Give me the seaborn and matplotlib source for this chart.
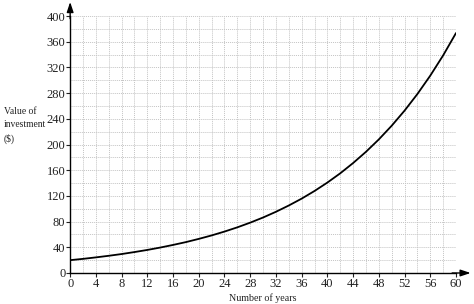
import numpy as np
import pandas as pd
import matplotlib
matplotlib.use("Agg")
import matplotlib.pyplot as plt
import seaborn as sns
from matplotlib.ticker import MultipleLocator

# values
years = [0, 2, 4, 6, 8, 10, 12, 14, 16, 18, 20, 22, 24, 26, 28, 30,
         32, 34, 36, 38, 40, 42, 44, 46, 48, 50, 52, 54, 56, 58, 60]
value = [20, 22, 24.3, 26.8, 29.5, 32.6, 35.9, 39.6, 43.7, 48.1, 53.1, 58.5,
         64.5, 71.1, 78.4, 86.4, 95.3, 105.1, 115.8, 127.7, 140.8, 155.2,
         171.2, 188.7, 208.0, 229.3, 252.8, 278.7, 307.3, 338.8, 373.6]
x_ticks = list(range(0, 61, 4))
y_ticks = list(range(0, 401, 40))

sns.set_style("white")
plt.rcParams['font.family'] = ['Liberation Serif', 'DejaVu Serif']

fig = plt.figure(figsize=(4.74, 3.04), dpi=100)
ax = fig.add_axes([0.148, 0.102, 0.814, 0.845])

df = pd.DataFrame({"years": years, "value": value})
sns.lineplot(data=df, x="years", y="value", ax=ax, color="black", lw=1.3, zorder=3)

ax.set_xlim(0, 60)
ax.set_ylim(0, 400)
ax.set_xticks(x_ticks)
ax.set_yticks(y_ticks)
ax.xaxis.set_minor_locator(MultipleLocator(2))
ax.yaxis.set_minor_locator(MultipleLocator(20))
ax.grid(which="both", color="#c4c4c4", linestyle=(0, (1, 1)), linewidth=0.7)
ax.set_axisbelow(True)

for s in ["top", "right"]:
    ax.spines[s].set_visible(False)
for s in ["left", "bottom"]:
    ax.spines[s].set_color("black")
    ax.spines[s].set_linewidth(1.0)

ax.tick_params(which="major", direction="out", length=3, width=0.8, colors="#222222",
               labelsize=9, pad=0.5, left=True, bottom=True)
ax.tick_params(which="minor", length=0)

ax.set_xlabel("Number of years", fontsize=7.2, labelpad=2.5, color="#222222")
ax.set_ylabel("")
fig.text(0.008, 0.648, "Value of\ninvestment\n($)", fontsize=6.9, ha="left", va="top",
         linespacing=1.6, color="#222222")

# axis arrows
ax.annotate("", xy=(0, 1.055), xytext=(0, 0.99), xycoords="axes fraction",
            arrowprops=dict(arrowstyle="-|>,head_length=0.6,head_width=0.2",
                            color="black", lw=1.0, shrinkA=0, shrinkB=0))
ax.annotate("", xy=(1.038, 0), xytext=(0.99, 0), xycoords="axes fraction",
            arrowprops=dict(arrowstyle="-|>,head_length=0.6,head_width=0.2",
                            color="black", lw=1.0, shrinkA=0, shrinkB=0))

fig.savefig("out.png", dpi=100)
